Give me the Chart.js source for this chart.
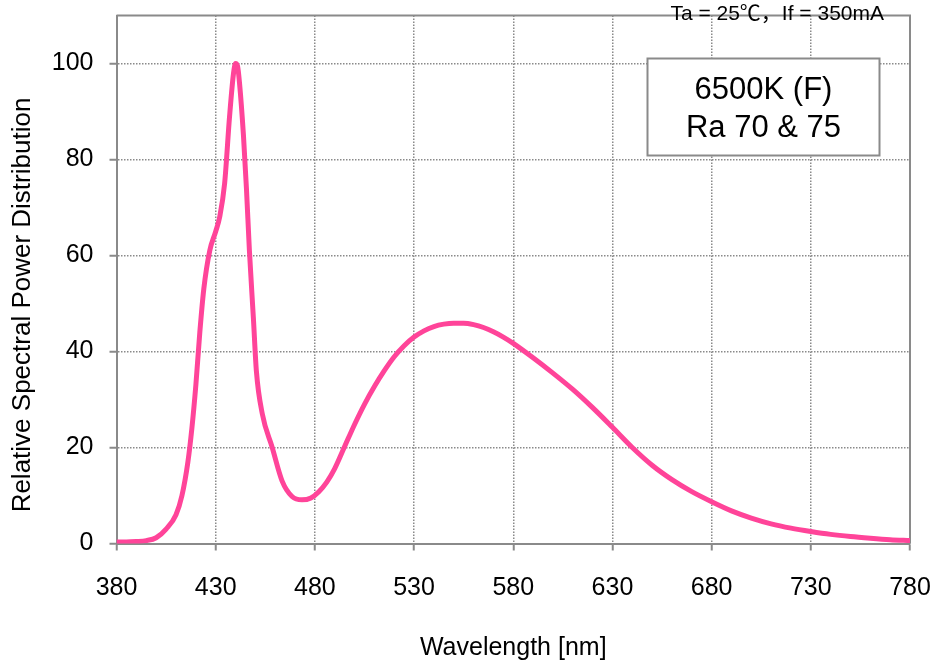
<!DOCTYPE html>
<html>
<head>
<meta charset="utf-8">
<script src="https://cdn.jsdelivr.net/npm/chart.js@4/dist/chart.umd.min.js"></script>
<style>
  html, body { margin: 0; padding: 0; background: #ffffff; }
  #wrap { position: relative; width: 936px; height: 667px; }
</style>
</head>
<body>
<div id="wrap"><canvas id="c" width="936" height="667"></canvas></div>
<script>
// ---- data ----
const wavelengths = [380,385,390,395,400,405,410,413,416,418,420,422,424,427,430,432,434.5,437,439,440,441,442,444,445.5,447,449,450.5,453.5,458.5,463.5,468.5,473.5,478,482,486,490,495,500,505,510,515,520,525,530,535,540,545,550,555,560,565,570,575,580,590,600,610,620,630,640,650,660,670,680,690,700,710,720,730,740,750,760,770,780];
const relativePower = [0.3,0.3,0.4,0.6,1.2,3.0,6.0,10,17,24,33,44,53,61,65,68,75,89,98,100,99.5,96,85,74,61,47,36,27,20,13,9.8,9.1,9.5,10.8,12.8,15.6,20.2,24.8,29.0,32.7,36.0,38.9,41.2,43.0,44.3,45.2,45.7,45.9,45.9,45.6,45.0,44.1,43.0,41.7,38.7,35.5,32.1,28.3,24.2,20.0,16.3,13.3,10.8,8.7,6.8,5.3,4.1,3.2,2.5,1.9,1.45,1.1,0.8,0.6];
const xTickValues = [380,430,480,530,580,630,680,730,780];
const yTickValues = [0,20,40,60,80,100];
const xTitle = 'Wavelength [nm]';
const yTitle = 'Relative Spectral Power Distribution';
const conditionText = 'Ta = 25℃，If = 350mA';
const legendLines = ['6500K (F)', 'Ra 70 & 75'];

const FONT = "'Liberation Sans', Arial, 'Noto Sans CJK SC', sans-serif";
const GRID = '#8a8a8a';

const points = wavelengths.map((w, i) => ({ x: w, y: relativePower[i] }));

const decor = {
  id: 'decor',
  beforeDatasetsDraw(chart) {
    const { ctx, chartArea: a } = chart;
    ctx.save();
    ctx.strokeStyle = GRID;
    ctx.lineWidth = 2;
    ctx.setLineDash([]);
    ctx.beginPath();
    ctx.moveTo(a.left, a.top);
    ctx.lineTo(a.right, a.top);
    ctx.lineTo(a.right, a.bottom);
    ctx.stroke();
    ctx.restore();
  },
  afterDraw(chart) {
    const { ctx, chartArea: a } = chart;
    ctx.save();
    ctx.fillStyle = '#000';
    // axis titles
    ctx.font = '25px ' + FONT;
    ctx.textAlign = 'center';
    ctx.textBaseline = 'middle';
    ctx.fillText(xTitle, (a.left + a.right) / 2, 648);
    ctx.save();
    ctx.translate(23, 305);
    ctx.rotate(-Math.PI / 2);
    ctx.font = '26px ' + FONT;
    ctx.fillText(yTitle, 0, 0);
    ctx.restore();
    // condition text
    ctx.font = '21px ' + FONT;
    ctx.textAlign = 'right';
    ctx.textBaseline = 'alphabetic';
    ctx.fillText(conditionText, 884, 20);
    // legend box
    const bx = 647.5, by = 58.5, bw = 232, bh = 97;
    ctx.fillStyle = '#fff';
    ctx.fillRect(bx, by, bw, bh);
    ctx.strokeStyle = GRID;
    ctx.lineWidth = 2;
    ctx.strokeRect(bx, by, bw, bh);
    ctx.fillStyle = '#000';
    ctx.font = '31px ' + FONT;
    ctx.textAlign = 'center';
    ctx.fillText(legendLines[0], bx + bw / 2, 99);
    ctx.fillText(legendLines[1], bx + bw / 2, 137);
    ctx.restore();
  }
};

function noPad(s) { s.paddingTop = 0; s.paddingBottom = 0; s.paddingLeft = 0; s.paddingRight = 0; }

new Chart(document.getElementById('c'), {
  type: 'line',
  data: {
    datasets: [{
      data: points,
      borderColor: '#ff4499',
      borderWidth: 5,
      pointRadius: 0,
      fill: false,
      cubicInterpolationMode: 'monotone'
    }]
  },
  options: {
    responsive: false,
    animation: false,
    devicePixelRatio: 1,
    layout: { padding: { top: 15.5, right: 26, left: 0, bottom: 0 } },
    plugins: { legend: { display: false }, tooltip: { enabled: false } },
    scales: {
      x: {
        type: 'linear',
        min: 380, max: 780,
        afterBuildTicks: (s) => { s.ticks = xTickValues.map(v => ({ value: v })); },
        afterFit: (s) => { s.height = 123.5; noPad(s); },
        grid: { color: GRID, lineWidth: 1.5, tickLength: 7, tickWidth: 2, tickBorderDash: [], tickColor: GRID },
        border: { display: true, color: GRID, width: 2, dash: [1.5, 1.5] },
        ticks: { font: { family: FONT, size: 25 }, color: '#000', padding: 23, maxRotation: 0, autoSkip: false },
        title: { display: false }
      },
      y: {
        type: 'linear',
        min: 0, max: 110,
        afterBuildTicks: (s) => { s.ticks = yTickValues.map(v => ({ value: v })); },
        afterFit: (s) => { s.width = 116.5; noPad(s); },
        grid: { color: GRID, lineWidth: 1.5, tickLength: 7, tickWidth: 2, tickBorderDash: [], tickColor: GRID },
        border: { display: true, color: GRID, width: 2, dash: [1.5, 1.5] },
        ticks: { font: { family: FONT, size: 25 }, color: '#000', padding: 16, autoSkip: false },
        title: { display: false }
      }
    }
  },
  plugins: [decor]
});
</script>
</body>
</html>
